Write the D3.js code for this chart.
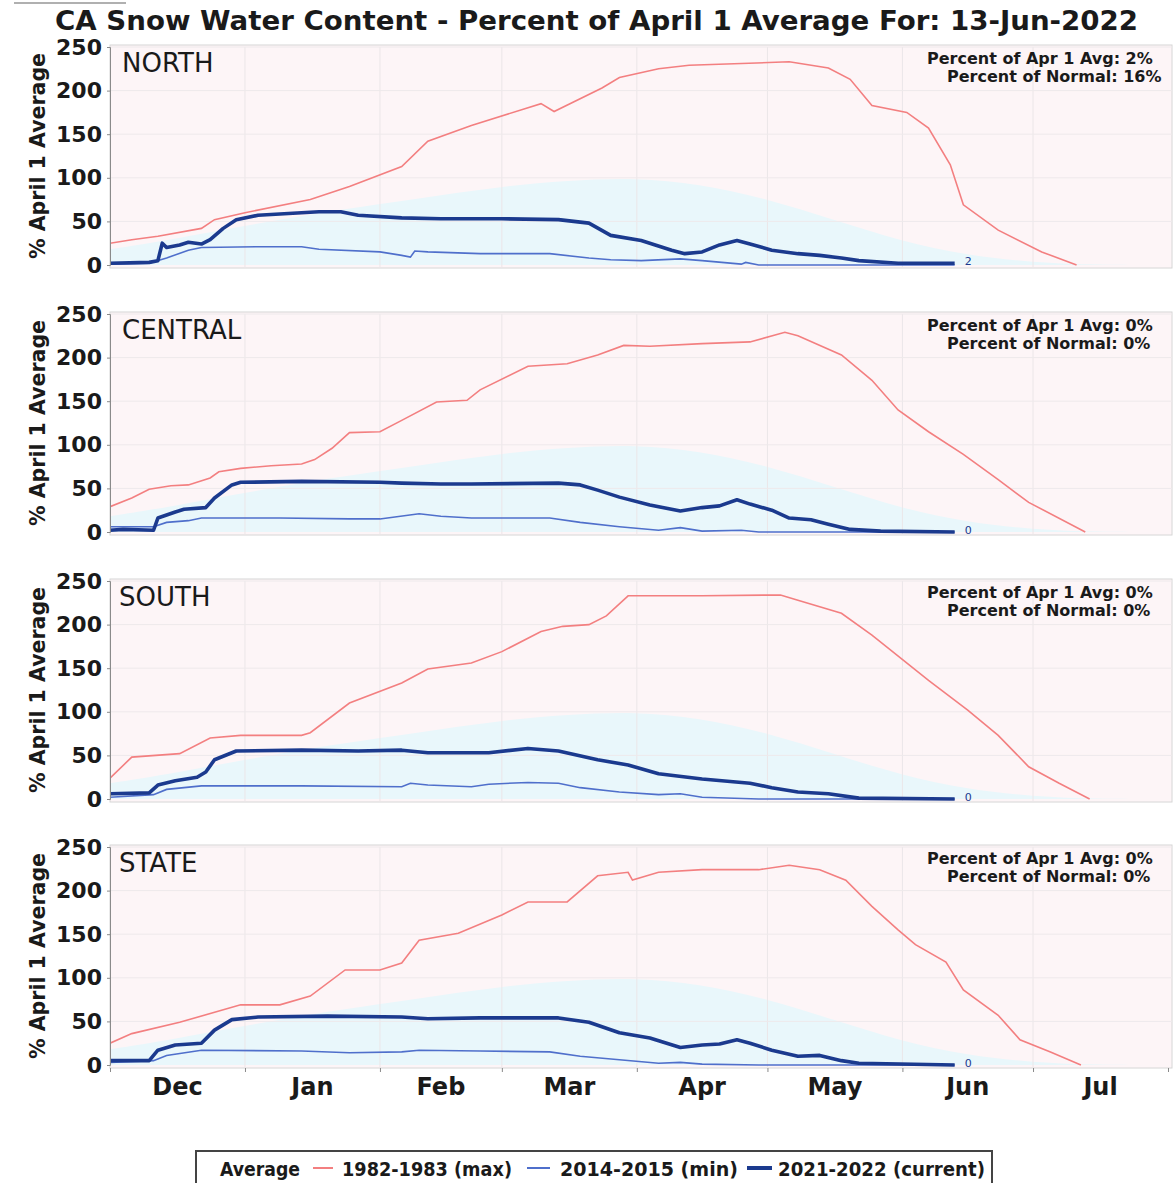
<!DOCTYPE html>
<html><head><meta charset="utf-8">
<script src="https://cdn.jsdelivr.net/npm/d3@7"></script>
<style>body{margin:0;background:#fff}svg{display:block}</style>
</head><body><svg id="c" width="1175" height="1183"></svg>
<script>
const title = "CA Snow Water Content - Percent of April 1 Average For: 13-Jun-2022";
const regions = ["NORTH","CENTRAL","SOUTH","STATE"];
const pctApr1 = ["2%","0%","0%","0%"];
const pctNormal = ["16%","0%","0%","0%"];
const endLabels = ["2","0","0","0"];
const yTicks = [0,50,100,150,200,250];
const monthLabels = ["Dec","Jan","Feb","Mar","Apr","May","Jun","Jul"];
const legendLabels = ["Average","1982-1983 (max)","2014-2015 (min)","2021-2022 (current)"];
const yAxisTitle = "% April 1 Average";

// dates are "MM-DD" on the Dec-Jul water-year axis
const averageCurve = [["12-01",18],["12-16",30],["01-01",45],["01-16",58],["02-01",70],["02-15",80],["03-01",90],["03-16",97],["04-01",100],["04-15",93],["05-01",76],["05-16",52],["06-01",27],["06-16",11],["07-01",3],["07-16",0],["07-31",0]];

const northMax = [["12-01",25],["12-06",29],["12-12",33],["12-22",42],["12-25",52],["01-01",60],["01-16",75],["01-25",90],["02-06",113],["02-12",142],["02-22",160],["03-10",185],["03-13",176],["03-24",203],["03-28",215],["04-06",225],["04-13",229],["05-06",233],["05-15",226],["05-20",213],["05-25",183],["06-02",175],["06-07",157],["06-12",115],["06-15",69],["06-23",40],["07-03",15],["07-11",0]];
const northMin = [["12-01",1],["12-10",2],["12-14",8],["12-19",17],["12-22",20],["01-04",21],["01-14",21],["01-18",18],["02-01",15],["02-06",11],["02-08",9],["02-09",16],["02-12",15],["02-24",13],["03-12",13],["03-21",8],["03-26",6],["04-02",5],["04-11",7],["04-16",5],["04-25",1],["04-26",3],["04-29",0],["06-13",0]];
const northCur = [["12-01",2],["12-10",3],["12-12",5],["12-13",25],["12-14",20],["12-17",23],["12-19",26],["12-22",24],["12-24",29],["12-27",42],["12-30",52],["01-04",57],["01-14",60],["01-18",61],["01-23",61],["01-27",57],["02-06",54],["02-15",53],["03-01",53],["03-14",52],["03-21",48],["03-26",34],["04-02",28],["04-09",17],["04-12",13],["04-16",15],["04-20",23],["04-24",28],["04-27",24],["05-02",17],["05-08",13],["05-13",11],["05-18",8],["05-22",5],["05-31",2],["06-13",2]];

const centralMax = [["12-01",29],["12-06",39],["12-10",49],["12-15",53],["12-19",54],["12-24",62],["12-26",69],["12-31",73],["01-07",76],["01-14",78],["01-17",83],["01-21",96],["01-25",114],["02-01",115],["02-06",128],["02-14",149],["02-21",151],["02-24",163],["03-07",190],["03-16",193],["03-23",203],["03-29",214],["04-04",213],["04-16",216],["04-27",218],["05-05",229],["05-08",225],["05-18",203],["05-25",174],["05-31",140],["06-07",115],["06-15",89],["06-23",60],["06-30",34],["07-13",0]];
const centralMin = [["12-01",6],["12-11",6],["12-14",11],["12-19",13],["12-22",16],["01-09",16],["01-25",15],["02-01",15],["02-10",21],["02-15",18],["02-22",16],["03-12",16],["03-19",11],["03-28",6],["04-06",2],["04-11",5],["04-16",1],["04-25",2],["04-29",0],["06-13",0]];
const centralCur = [["12-01",2],["12-04",3],["12-11",2],["12-12",16],["12-16",23],["12-18",26],["12-23",28],["12-25",39],["12-29",54],["12-31",57],["01-14",58],["02-01",57],["02-06",56],["02-15",55],["02-22",55],["03-14",56],["03-19",54],["03-23",48],["03-28",40],["04-04",31],["04-11",24],["04-16",28],["04-20",30],["04-24",37],["04-27",32],["05-02",25],["05-06",16],["05-11",14],["05-15",9],["05-20",3],["05-27",1],["06-13",0]];

const southMax = [["12-01",24],["12-06",48],["12-17",52],["12-24",70],["12-31",73],["01-14",73],["01-16",76],["01-25",110],["02-06",133],["02-12",149],["02-22",156],["03-01",169],["03-10",192],["03-15",198],["03-21",200],["03-25",210],["03-30",233],["04-16",233],["05-04",234],["05-08",228],["05-18",213],["05-25",188],["06-07",136],["06-16",102],["06-23",73],["06-30",37],["07-07",18],["07-14",0]];
const southMin = [["12-01",2],["12-11",5],["12-14",11],["12-22",15],["01-14",15],["02-06",14],["02-08",18],["02-12",16],["02-22",14],["02-26",17],["03-07",19],["03-14",18],["03-19",13],["03-28",8],["04-06",5],["04-11",6],["04-16",2],["04-29",0],["06-13",0]];
const southCur = [["12-01",6],["12-10",7],["12-12",16],["12-16",21],["12-21",25],["12-23",31],["12-25",45],["12-30",55],["01-14",56],["01-27",55],["02-06",56],["02-12",53],["02-26",53],["03-07",58],["03-14",55],["03-23",45],["03-30",39],["04-06",29],["04-16",23],["04-27",18],["05-02",13],["05-08",8],["05-15",6],["05-22",1],["06-13",0]];

const stateMax = [["12-01",25],["12-06",36],["12-17",49],["12-31",69],["01-09",69],["01-16",79],["01-24",109],["02-01",109],["02-06",117],["02-10",143],["02-19",151],["03-01",172],["03-07",187],["03-16",187],["03-23",217],["03-30",221],["03-31",212],["04-06",221],["04-16",224],["04-29",224],["05-06",229],["05-13",224],["05-19",212],["05-25",182],["05-31",155],["06-04",138],["06-11",118],["06-15",86],["06-23",57],["06-28",29],["07-05",15],["07-12",0]];
const stateMin = [["12-01",3],["12-11",5],["12-14",11],["12-22",17],["01-14",16],["01-25",14],["02-06",15],["02-10",17],["02-24",16],["03-12",15],["03-19",10],["03-28",6],["04-06",2],["04-11",3],["04-16",1],["04-29",0],["06-13",0]];
const stateCur = [["12-01",5],["12-10",5],["12-12",17],["12-16",23],["12-22",25],["12-25",40],["12-29",52],["01-04",55],["01-20",56],["02-06",55],["02-12",53],["02-24",54],["03-14",54],["03-21",49],["03-28",37],["04-04",31],["04-11",20],["04-16",23],["04-20",24],["04-24",29],["04-27",25],["05-02",17],["05-08",10],["05-13",11],["05-18",5],["05-22",2],["06-13",0]];

const maxSeries = [northMax, centralMax, southMax, stateMax];
const minSeries = [northMin, centralMin, southMin, stateMin];
const curSeries = [northCur, centralCur, southCur, stateCur];

function pd(md){ const [m,d] = md.split("-").map(Number); return new Date(m>=10?2021:2022, m-1, d); }

const svg = d3.select("#c");
const FONT = "'DejaVu Sans', Verdana, sans-serif";
const colMax = "#f37f80", colMin = "#4f6fcb", colCur = "#1b3a8e";

// scan artifact line at top
svg.append("line").attr("x1",14).attr("x2",126).attr("y1",3).attr("y2",3).attr("stroke","#b0b0b0").attr("stroke-width",2);

svg.append("text").attr("x",55).attr("y",30).attr("font-family",FONT).attr("font-weight","bold")
  .attr("font-size",26).attr("textLength",1083).attr("lengthAdjust","spacingAndGlyphs").attr("fill","#1a1a1a").text(title);

const x = d3.scaleTime().domain([pd("12-01"), pd("08-01")]).range([110,1168]);
const panelTops = [47,314,581,847];
const PH = 218, PL = 110, PR = 1172;

regions.forEach((name,i)=>{
  const top = panelTops[i];
  const y = d3.scaleLinear().domain([0,250]).range([top+PH, top]);
  const g = svg.append("g");
  g.append("rect").attr("x",PL).attr("y",top-2).attr("width",PR-PL).attr("height",PH+5)
    .attr("fill","#fdf5f7").attr("stroke","#d6d6d6");
  const clipId = "clip"+i;
  svg.append("clipPath").attr("id",clipId).append("rect").attr("x",PL).attr("y",top-2).attr("width",PR-PL).attr("height",PH+5);
  const inner = g.append("g").attr("clip-path",`url(#${clipId})`);
  const area = d3.area().x(d=>x(pd(d[0]))).y0(y(0)).y1(d=>y(d[1])).curve(d3.curveBasis);
  inner.append("path").datum(averageCurve).attr("d",area).attr("fill","#e9f7fb");
  // grid
  const months = d3.timeMonth.range(pd("01-01"), pd("08-01"));
  inner.selectAll("line.vg").data(months).join("line").attr("x1",d=>x(d)).attr("x2",d=>x(d))
    .attr("y1",top).attr("y2",top+PH+3).attr("stroke","#ebe6e8").attr("stroke-width",1);
  inner.selectAll("line.hg").data(yTicks.slice(1)).join("line").attr("x1",PL).attr("x2",PR)
    .attr("y1",d=>y(d)).attr("y2",d=>y(d)).attr("stroke","#eee9eb").attr("stroke-width",1);
  const line = d3.line().x(d=>x(pd(d[0]))).y(d=>y(d[1]));
  inner.append("path").datum(maxSeries[i]).attr("d",line).attr("fill","none").attr("stroke",colMax).attr("stroke-width",1.6);
  inner.append("path").datum(minSeries[i]).attr("d",line).attr("fill","none").attr("stroke",colMin).attr("stroke-width",1.6);
  inner.append("path").datum(curSeries[i]).attr("d",line).attr("fill","none").attr("stroke",colCur).attr("stroke-width",3.6).attr("stroke-linejoin","round");
  const last = curSeries[i][curSeries[i].length-1];
  g.append("text").attr("x",x(pd(last[0]))+10).attr("y",y(last[1])+2).attr("font-family",FONT)
    .attr("font-size",11).attr("fill",colCur).text(endLabels[i]);
  // y axis
  const ax = g.append("g").attr("transform",`translate(${PL},0)`)
    .call(d3.axisLeft(y).tickValues(yTicks).tickSize(3).tickPadding(5));
  ax.select(".domain").attr("stroke","#8a8a8a");
  ax.selectAll(".tick line").attr("stroke","#8a8a8a");
  ax.selectAll("text").attr("font-family",FONT).attr("font-weight","bold").attr("font-size",22).attr("fill","#1a1a1a");
  // y title
  g.append("text").attr("transform",`translate(45,${top+PH/2}) rotate(-90)`).attr("text-anchor","middle")
    .attr("font-family",FONT).attr("font-weight","bold").attr("font-size",21)
    .attr("textLength",206).attr("lengthAdjust","spacingAndGlyphs").attr("fill","#1a1a1a").text(yAxisTitle);
  // panel name
  g.append("text").attr("x", i<2?122:119).attr("y",top+25).attr("font-family",FONT).attr("font-size",26)
    .attr("fill","#1a1a1a").text(name);
  // annotations
  g.append("text").attr("x",927).attr("y",top+17).attr("font-family",FONT).attr("font-weight","bold")
    .attr("font-size",16).attr("fill","#1a1a1a").text("Percent of Apr 1 Avg: "+pctApr1[i]);
  g.append("text").attr("x",947).attr("y",top+35).attr("font-family",FONT).attr("font-weight","bold")
    .attr("font-size",16).attr("fill","#1a1a1a").text("Percent of Normal: "+pctNormal[i]);
  if(i===3){
    const bx = g.append("g").attr("transform",`translate(0,${top+PH+3})`)
      .call(d3.axisBottom(x).ticks(d3.timeMonth.every(1)).tickSize(4).tickFormat(""));
    bx.select(".domain").remove();
    bx.selectAll(".tick line").attr("stroke","#8a8a8a");
  }
});

// month labels centred in each month
const monthStarts = d3.timeMonth.range(pd("12-01"), pd("08-01"));
svg.selectAll("text.ml").data(monthStarts).join("text")
  .attr("x",d=>(x(d)+x(d3.timeMonth.offset(d,1)))/2).attr("y",1095).attr("text-anchor","middle")
  .attr("font-family",FONT).attr("font-weight","bold").attr("font-size",24).attr("fill","#1a1a1a")
  .text((d,i)=>monthLabels[i]);

// legend
const lg = svg.append("g");
lg.append("path").attr("d","M196,1190 V1151 H992 V1190").attr("fill","none").attr("stroke","#444").attr("stroke-width",2);
const legItems = [
  {x:220, w:80, sw:null},
  {x:342, w:170, sw:[313,333,colMax,2]},
  {x:560, w:178, sw:[527,550,colMin,2]},
  {x:778, w:207, sw:[747,772,colCur,4]}
];
legItems.forEach((it,i)=>{
  if(it.sw) lg.append("line").attr("x1",it.sw[0]).attr("x2",it.sw[1]).attr("y1",1168).attr("y2",1168)
     .attr("stroke",it.sw[2]).attr("stroke-width",it.sw[3]);
  lg.append("text").attr("x",it.x).attr("y",1176).attr("font-family",FONT).attr("font-weight","bold")
    .attr("font-size",20).attr("textLength",it.w).attr("lengthAdjust","spacingAndGlyphs").attr("fill","#1a1a1a").text(legendLabels[i]);
});
</script></body></html>
